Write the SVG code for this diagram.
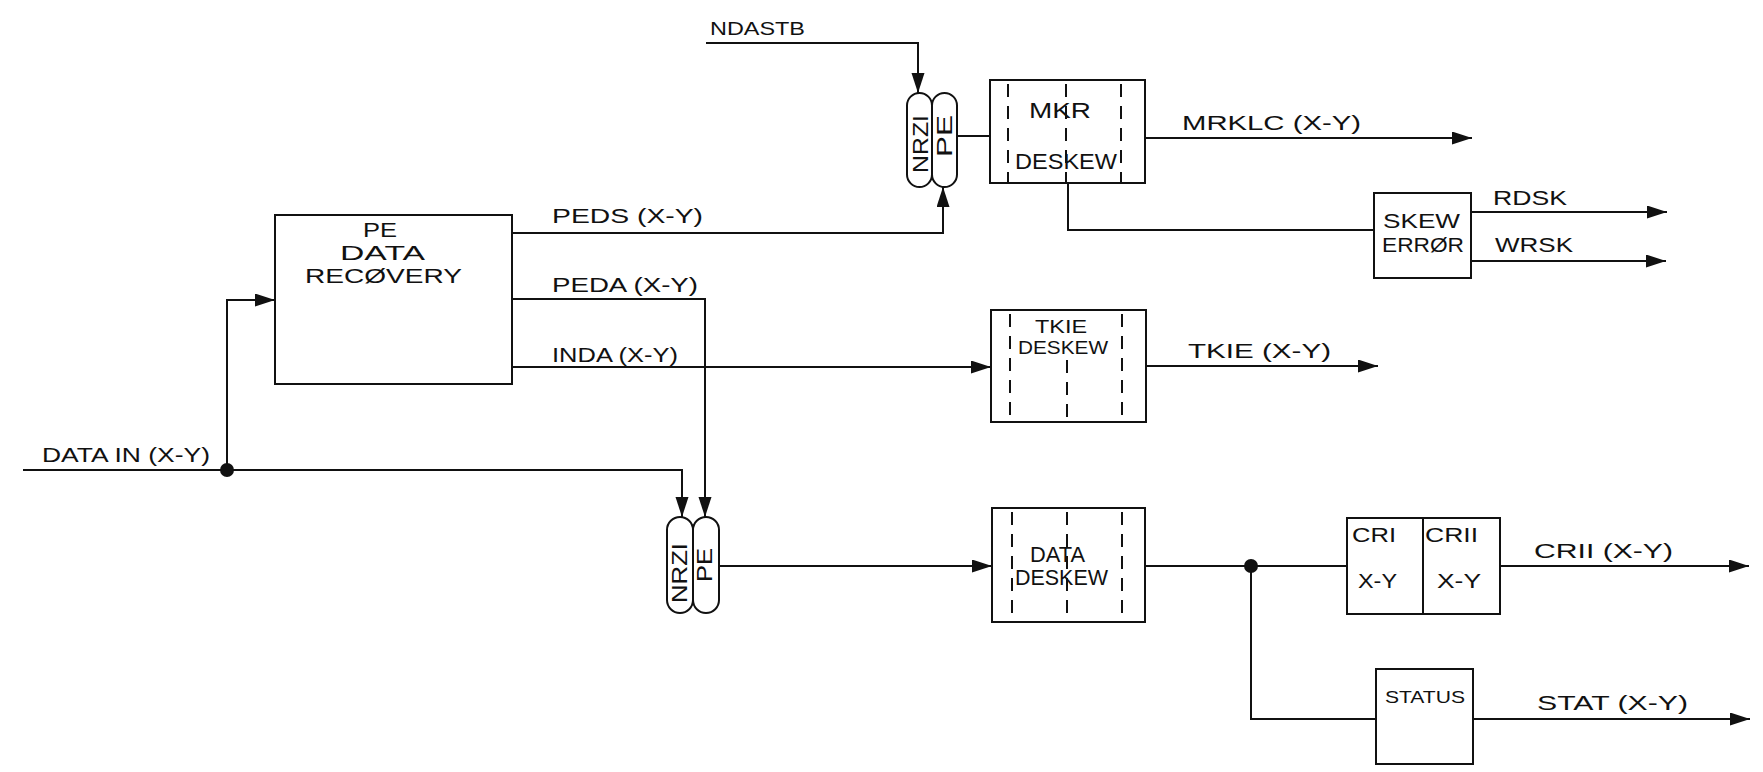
<svg xmlns="http://www.w3.org/2000/svg" width="1763" height="772" viewBox="0 0 1763 772">
<style>
.bg{fill:#fff}
.box{fill:#fff;stroke:#111;stroke-width:2}
.cap{fill:#fff;stroke:#111;stroke-width:2}
.dash{stroke:#111;stroke-width:2;stroke-dasharray:13 9;fill:none}
.ln{fill:none;stroke:#111;stroke-width:2}
.t{font-family:"Liberation Sans",Arial,sans-serif;font-size:21px;fill:#111}
.b{font-family:"Liberation Sans",Arial,sans-serif;font-size:22px;fill:#111}
.s{font-family:"Liberation Sans",Arial,sans-serif;font-size:19px;fill:#111}
.xs{font-family:"Liberation Sans",Arial,sans-serif;font-size:17px;fill:#111}
</style>
<defs>
<marker id="ah" markerUnits="userSpaceOnUse" markerWidth="22" markerHeight="14" refX="20" refY="6.5" orient="auto">
<path d="M0,0 L20,6.5 L0,13 z" fill="#111"/>
</marker>
</defs>
<rect class="bg" x="0" y="0" width="1763" height="772"/>

<g id="connectors">
<polyline class="ln" points="706,43 918,43 918,93" marker-end="url(#ah)"/>
<polyline class="ln" points="512,233 943,233 943,187" marker-end="url(#ah)"/>
<line class="ln" x1="957" y1="136" x2="990" y2="136"/>
<line class="ln" x1="1145" y1="138" x2="1472" y2="138" marker-end="url(#ah)"/>
<polyline class="ln" points="1068,183 1068,230 1374,230"/>
<line class="ln" x1="1471" y1="212" x2="1667" y2="212" marker-end="url(#ah)"/>
<line class="ln" x1="1471" y1="261" x2="1666" y2="261" marker-end="url(#ah)"/>
<polyline class="ln" points="23,470 682,470 682,517" marker-end="url(#ah)"/>
<polyline class="ln" points="227,470 227,300 275,300" marker-end="url(#ah)"/>
<circle cx="227" cy="470" r="7" fill="#111"/>
<polyline class="ln" points="512,299 705,299 705,517" marker-end="url(#ah)"/>
<line class="ln" x1="512" y1="367" x2="991" y2="367" marker-end="url(#ah)"/>
<line class="ln" x1="1146" y1="366" x2="1378" y2="366" marker-end="url(#ah)"/>
<line class="ln" x1="719" y1="566" x2="992" y2="566" marker-end="url(#ah)"/>
<line class="ln" x1="1145" y1="566" x2="1347" y2="566"/>
<polyline class="ln" points="1251,566 1251,719 1376,719"/>
<circle cx="1251" cy="566" r="7" fill="#111"/>
<line class="ln" x1="1500" y1="566" x2="1749" y2="566" marker-end="url(#ah)"/>
<line class="ln" x1="1473" y1="719" x2="1750" y2="719" marker-end="url(#ah)"/>
<text class="s" x="710" y="35" textLength="95" lengthAdjust="spacingAndGlyphs">NDASTB</text>
<text class="t" x="552" y="223" textLength="151" lengthAdjust="spacingAndGlyphs">PEDS (X-Y)</text>
<text class="t" x="552" y="292" textLength="146" lengthAdjust="spacingAndGlyphs">PEDA (X-Y)</text>
<text class="t" x="552" y="362" textLength="126" lengthAdjust="spacingAndGlyphs">INDA (X-Y)</text>
<text class="t" x="42" y="462" textLength="168" lengthAdjust="spacingAndGlyphs">DATA IN (X-Y)</text>
<text class="t" x="1182" y="130" textLength="179" lengthAdjust="spacingAndGlyphs">MRKLC (X-Y)</text>
<text class="t" x="1493" y="205" textLength="74" lengthAdjust="spacingAndGlyphs">RDSK</text>
<text class="t" x="1495" y="252" textLength="78" lengthAdjust="spacingAndGlyphs">WRSK</text>
<text class="t" x="1188" y="358" textLength="143" lengthAdjust="spacingAndGlyphs">TKIE (X-Y)</text>
<text class="t" x="1534" y="558" textLength="139" lengthAdjust="spacingAndGlyphs">CRII (X-Y)</text>
<text class="t" x="1537" y="710" textLength="151" lengthAdjust="spacingAndGlyphs">STAT (X-Y)</text>
</g>

<g id="pe-data-recovery">
<rect class="box" x="275" y="215" width="237" height="169"/>
<text class="t" x="363" y="237" textLength="34" lengthAdjust="spacingAndGlyphs">PE</text>
<text class="t" x="340" y="260" textLength="85" lengthAdjust="spacingAndGlyphs">DATA</text>
<text class="t" x="305" y="283" textLength="157" lengthAdjust="spacingAndGlyphs">RECØVERY</text>
</g>

<g id="upper-nrzi">
<rect class="cap" x="907" y="93" width="25" height="94" rx="12.5"/>
<text class="b" transform="translate(928,173) rotate(-90)" textLength="58" lengthAdjust="spacingAndGlyphs">NRZI</text>
</g>
<g id="upper-pe">
<rect class="cap" x="932" y="93" width="25" height="94" rx="12.5"/>
<text class="b" transform="translate(952,157) rotate(-90)" textLength="42" lengthAdjust="spacingAndGlyphs">PE</text>
</g>

<g id="mkr-deskew">
<rect class="box" x="990" y="80" width="155" height="103"/>
<line class="dash" x1="1008" y1="84" x2="1008" y2="183"/>
<line class="dash" x1="1066" y1="84" x2="1066" y2="183"/>
<line class="dash" x1="1121" y1="84" x2="1121" y2="183"/>
<text class="b" x="1029" y="118" textLength="62" lengthAdjust="spacingAndGlyphs">MKR</text>
<text class="b" x="1015" y="169" textLength="102" lengthAdjust="spacingAndGlyphs">DESKEW</text>
</g>

<g id="skew-error">
<rect class="box" x="1374" y="193" width="97" height="85"/>
<text class="t" x="1383" y="228" textLength="77" lengthAdjust="spacingAndGlyphs">SKEW</text>
<text class="t" x="1382" y="252" textLength="82" lengthAdjust="spacingAndGlyphs">ERRØR</text>
</g>

<g id="tkie-deskew">
<rect class="box" x="991" y="310" width="155" height="112"/>
<line class="dash" x1="1010" y1="314" x2="1010" y2="422"/>
<line class="dash" x1="1067" y1="360" x2="1067" y2="422"/>
<line class="dash" x1="1122" y1="314" x2="1122" y2="422"/>
<text class="s" x="1035" y="333" textLength="52" lengthAdjust="spacingAndGlyphs">TKIE</text>
<text class="s" x="1018" y="354" textLength="90" lengthAdjust="spacingAndGlyphs">DESKEW</text>
</g>

<g id="lower-nrzi">
<rect class="cap" x="667" y="517" width="26" height="96" rx="13"/>
<text class="b" transform="translate(687,603) rotate(-90)" textLength="60" lengthAdjust="spacingAndGlyphs">NRZI</text>
</g>
<g id="lower-pe">
<rect class="cap" x="693" y="517" width="26" height="96" rx="13"/>
<text class="b" transform="translate(712,582) rotate(-90)" textLength="34" lengthAdjust="spacingAndGlyphs">PE</text>
</g>

<g id="data-deskew">
<rect class="box" x="992" y="508" width="153" height="114"/>
<line class="dash" x1="1012" y1="512" x2="1012" y2="622"/>
<line class="dash" x1="1067" y1="512" x2="1067" y2="622"/>
<line class="dash" x1="1122" y1="512" x2="1122" y2="622"/>
<text class="b" x="1030" y="562" textLength="55" lengthAdjust="spacingAndGlyphs">DATA</text>
<text class="b" x="1015" y="585" textLength="93" lengthAdjust="spacingAndGlyphs">DESKEW</text>
</g>

<g id="cr-registers">
<rect class="box" x="1347" y="518" width="153" height="96"/>
<line class="ln" x1="1423" y1="518" x2="1423" y2="614"/>
<text class="t" x="1352" y="542" textLength="44" lengthAdjust="spacingAndGlyphs">CRI</text>
<text class="t" x="1358" y="588" textLength="39" lengthAdjust="spacingAndGlyphs">X-Y</text>
<text class="t" x="1425" y="542" textLength="53" lengthAdjust="spacingAndGlyphs">CRII</text>
<text class="t" x="1437" y="588" textLength="44" lengthAdjust="spacingAndGlyphs">X-Y</text>
</g>

<g id="status">
<rect class="box" x="1376" y="669" width="97" height="95"/>
<text class="xs" x="1385" y="703" textLength="80" lengthAdjust="spacingAndGlyphs">STATUS</text>
</g>
</svg>
